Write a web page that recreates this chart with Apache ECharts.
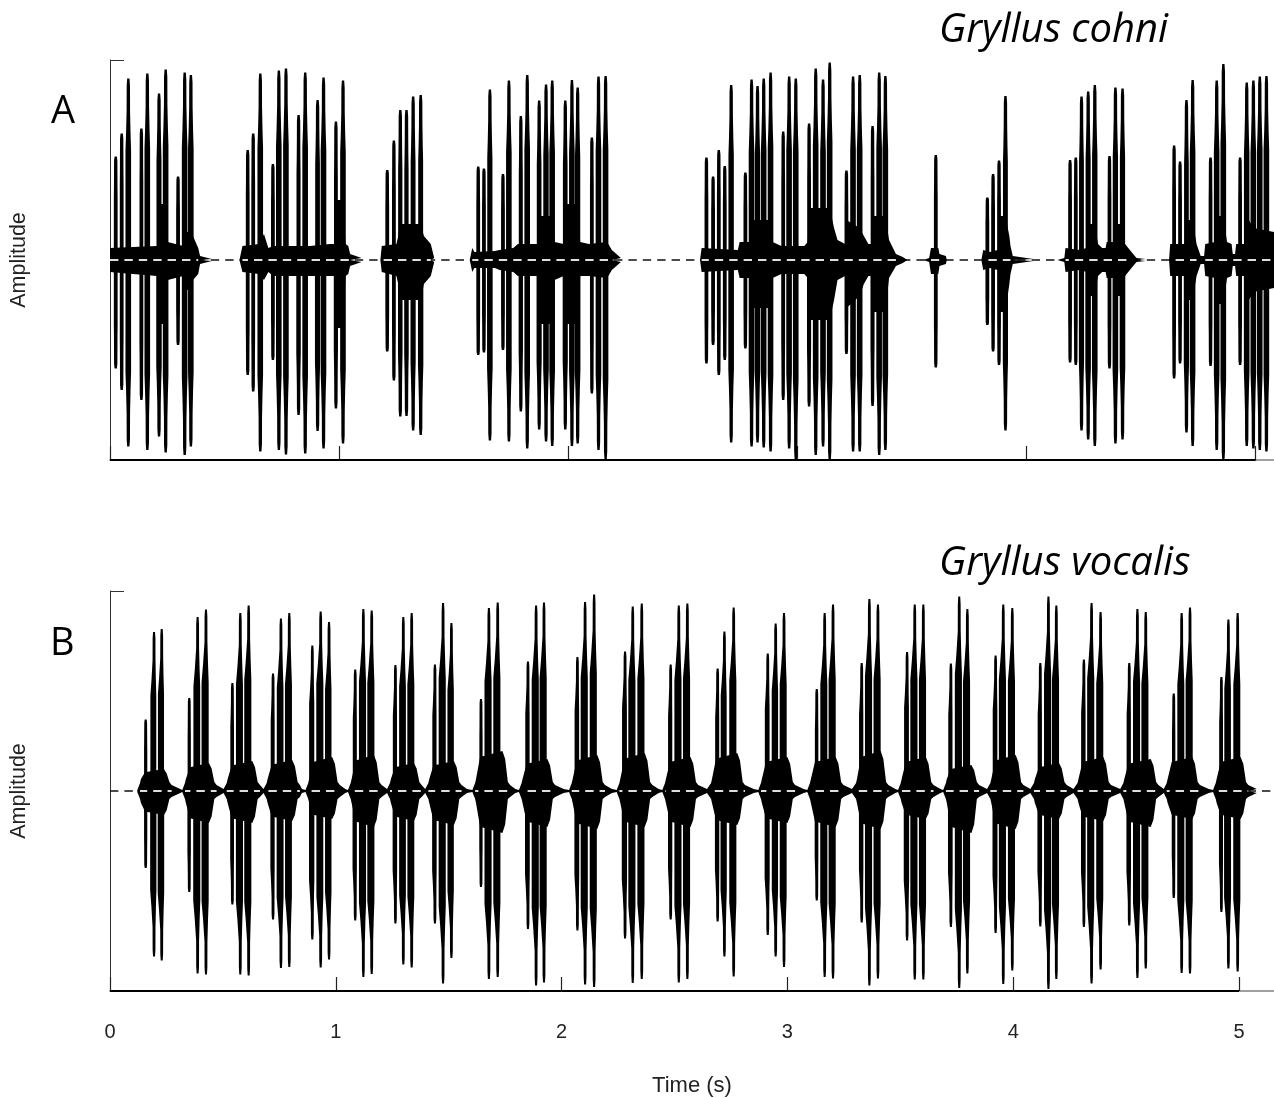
<!DOCTYPE html>
<html><head><meta charset="utf-8">
<style>html,body{margin:0;padding:0;background:#fff}#c{width:1274px;height:1098px}</style>
<script src="https://cdn.jsdelivr.net/npm/echarts@6/dist/echarts.min.js"></script>
</head><body><div id="c"></div>
<script>
const tickValues = [0, 1, 2, 3, 4, 5];

// Panel A: pulses [time s, positive peak, negative peak] (amplitude in % of full scale)
const pulsesA = [
 [.025,51.7,54.2],[.051,63.3,65],[.080,90.8,93.3],[.137,65.8,70],[.163,93.3,95],[.214,83.3,88.3],[.243,95.3,96.3],[.297,41.7,42.5],[.326,93.7,97.5],[.353,92.5,93.3],
 [.601,55,57.5],[.625,63.3,65.8],[.656,93.3,95.8],[.711,48,50],[.737,94.7,95],[.768,95.8,97.2],[.823,72.5,77.5],[.852,93.7,96.7],[.906,80,85.5],[.932,91.3,94.2],[.986,69.2,74.2],[1.017,89.7,91.7],
 [1.210,45,45.8],[1.239,59.7,60.3],[1.267,75,78.3],[1.294,75,78],[1.323,81.7,85.3],[1.356,82.5,87.5],
 [1.607,46.7,47.5],[1.632,45.8,46.3],[1.658,85.3,90.3],[1.715,43,45],[1.741,89.7,90.8],[1.793,72,75.8],[1.821,92.5,94.2],[1.873,79.7,84.7],[1.903,87.8,90.8],[1.930,89.7,93],[1.987,79.7,84.7],[2.016,90,93],[2.041,86.3,91.7],[2.103,61.3,66.7],[2.132,91.7,95],[2.163,92,99.5],
 [2.603,51.3,51.7],[2.632,41.7,42.5],[2.657,55,57.5],[2.683,47,50],[2.711,87.5,91.2],[2.773,43.7,44.2],[2.800,90.3,93.3],[2.826,87,91.3],[2.853,90.8,93.7],[2.883,93.7,95.8],[2.938,64.2,70],[2.964,91.7,94.2],[2.993,90.8,99.7],[3.051,68.3,73.3],[3.080,95.8,97.5],[3.112,90.3,93.3],[3.141,98.7,99.7],[3.214,44.7,47],[3.243,91.7,95.8],[3.272,92.5,95.8],[3.328,67,73],[3.357,93.7,97.5],[3.384,92,95],
 [3.604,52.5,53.8],
 [3.829,31.3,32.5],[3.854,43,45.8],[3.880,49.7,52.5],[3.908,82,85.3],
 [4.190,50,51.2],[4.215,51.3,52.5],[4.240,81.7,85.3],[4.269,84.2,89.7],[4.298,87.5,93],[4.362,52,54.2],[4.388,86.3,91.7],[4.419,85.8,89.7],
 [4.644,57.2,59.2],[4.670,49.2,51.7],[4.698,80,86.3],[4.725,90,93],[4.803,51.3,53],[4.830,89.7,95],[4.859,98,99.7],[4.932,51.3,52.5],[4.961,88.7,93],[4.990,89.7,94.2],[5.018,91.7,95],[5.047,92,95.8]
];

// Panel A: solid envelope under the pulses [time s, positive, negative]
const envelopeA = [
 [0,6,6],[.10,6.5,7],[.205,7,8],[.214,28,32],[.243,28,32],[.252,9,10],[.32,7,8],[.326,14,15],[.353,14,15],[.362,12,10],[.385,6,7],[.393,2,2],[.444,.5,.5],[.45,0,0],
 [.565,0,0],[.567,1,1],[.578,7,6],[.65,8,7],[.672,13,10],[.691,6,6],[.713,7,8],[.872,7,8],[.96,8,8],[.98,8,8],[.986,30,34],[1.017,30,34],[1.028,8,8],[1.04,7,7],[1.048,3,3],[1.098,1,1],[1.105,0,0],
 [1.18,0,0],[1.186,7,6],[1.25,8,8],[1.262,14,14],[1.267,18,20],[1.356,18,20],[1.37,12,12],[1.40,8,8],[1.415,1,1],[1.42,0,0],
 [1.57,0,0],[1.581,6,6],[1.59,4,4],[1.68,4.5,4],[1.70,5,5],[1.76,6,6],[1.78,8,8],[1.866,8,8],[1.873,22,32],[1.93,22,32],[1.94,9,10],[1.98,8,8],[1.987,28,32],[2.041,28,32],[2.052,9,8],[2.09,8,8],[2.17,9,9],[2.19,5,5],[2.23,1,1],[2.235,0,0],
 [2.575,0,0],[2.582,6,6],[2.74,5,5],[2.748,9,9],[2.795,9,9],[2.80,20,24],[2.883,20,24],[2.892,9,9],[2.93,7,7],[3.03,7,7],[3.045,9,9],[3.051,26,30],[3.141,26,30],[3.16,16,20],[3.175,10,10],[3.208,8,8],[3.214,20,24],[3.272,16,18],[3.29,12,12],[3.31,8,8],[3.322,8,8],[3.328,22,26],[3.384,22,26],[3.40,10,9],[3.43,3,3],[3.46,1.5,1.5],[3.48,0,0],
 [3.55,0,0],[3.575,1,1],[3.583,6,7],[3.615,6,7],[3.62,3,3],[3.648,2,2],[3.652,0,0],
 [3.803,0,0],[3.811,5,5],[3.84,4,4],[3.874,5,5],[3.88,22,26],[3.908,22,26],[3.925,12,12],[3.93,7,7],[3.94,2,2],[4.03,.5,.5],[4.035,0,0],
 [4.135,0,0],[4.165,1,1],[4.17,6,6],[4.232,5,5],[4.262,6,6],[4.269,18,18],[4.298,18,18],[4.312,8,8],[4.33,6,6],[4.345,6,6],[4.35,9,9],[4.382,9,9],[4.388,18,18],[4.419,18,18],[4.43,8,8],[4.458,4,4],[4.48,1,1],[4.52,.5,.5],[4.525,0,0],
 [4.622,0,0],[4.627,8,8],[4.69,8,8],[4.698,20,20],[4.725,20,20],[4.742,8,8],[4.76,2,2],[4.775,2,2],[4.78,8,8],[4.824,9,9],[4.83,22,22],[4.859,22,22],[4.875,9,9],[4.895,8,8],[4.9,3,3],[4.91,3,3],[4.915,8,8],[4.955,8,8],[4.961,22,22],[4.99,16,16],[5.08,14,14]
];

// Panel B: pulses [time s, positive peak, negative peak]
const pulsesB = [
 [.158,35.7,38.5],[.195,79.5,82.7],[.229,81,84.8],
 [.351,46.5,50.5],[.388,87,91.3],[.425,90.7,91.8],
 [.542,54,56.8],[.577,89,91.8],[.614,92.7,92.3],
 [.722,58.7,64.3],[.757,86.2,88.5],[.794,89,88],
 [.896,72.7,74.3],[.933,89.8,88.2],[.970,84.5,84.3],
 [1.086,60.7,64.7],[1.122,91,93],[1.159,90.3,91.5],
 [1.264,63,66.3],[1.299,87,86.8],[1.336,89,88.2],
 [1.439,63.2,66.3],[1.475,94,96.3],[1.512,84,83.5],
 [1.643,46,48],[1.678,91.5,94],[1.717,94.3,93],
 [1.851,64.8,69],[1.887,92.8,97.2],[1.922,94.3,95.7],
 [2.070,67,69.7],[2.104,94.5,96.8],[2.144,98.2,98],
 [2.281,69.8,73.8],[2.315,92.3,96],[2.355,93.7,94],
 [2.483,63.2,64.3],[2.519,92.7,95.7],[2.557,93.7,94],
 [2.691,61.2,65.2],[2.721,79.8,82.7],[2.762,91.8,92.7],
 [2.913,68.7,72],[2.948,83.7,82.7],[2.985,89,88],
 [3.130,51,54.7],[3.165,89,93],[3.202,93.2,93.8],
 [3.329,64,65.7],[3.363,96,97.2],[3.401,93.2,93.8],
 [3.530,69.5,74.7],[3.564,93.2,94.3],[3.602,93.2,94.3],
 [3.724,63.7,68],[3.761,97.3,98.5],[3.797,91,91.3],
 [3.922,67.7,71],[3.956,93.2,96.5],[3.996,91.5,89.7],
 [4.120,64,67.7],[4.156,97.3,99],[4.191,92.7,94],
 [4.313,65.7,68],[4.347,94,96.3],[4.387,89.5,89.3],
 [4.514,64,67.2],[4.550,91,93.5],[4.587,89.5,88.8],
 [4.711,48.7,53.5],[4.746,89,91],[4.783,91.8,91.3],
 [4.922,57,60.5],[4.953,85.7,88.8],[4.994,89,90.2]
];

// Panel B: syllable bodies [onset s, offset s, tail end s, positive hump, negative hump]
const burstsB = [
 [.133,.251,.317,11,12],[.332,.450,.509,14,16],[.517,.642,.686,15,16],[.694,.819,.856,15.5,15],[.878,.996,1.048,17,14],
 [1.066,1.181,1.233,18,18],[1.240,1.358,1.402,14,15],[1.410,1.535,1.587,15,17],[1.617,1.750,1.801,20,21],[1.823,1.949,2.015,16,18],
 [2.045,2.170,2.229,18,19],[2.256,2.380,2.436,19,18],[2.458,2.583,2.650,17,18],[2.662,2.790,2.857,19,17],[2.883,3.012,3.078,17,16],
 [3.100,3.226,3.292,17,18],[3.304,3.425,3.484,20,19],[3.502,3.625,3.684,17,14],[3.702,3.827,3.890,13,21],[3.899,4.023,4.082,18,19],
 [4.092,4.215,4.273,14,14],[4.285,4.411,4.480,17,15],[4.488,4.621,4.673,16,18],[4.680,4.805,4.872,17,14],[4.897,5.019,5.085,17,14]
];

const xMaxA = 5.08, xMaxB = 5.155;
const SHAPE_A = { tip: .0072, left: .0125, right: .012 };
const SHAPE_B = { tip: .0062, left: .0195, right: .012 };
const DASH = [8.4, 6];

function bodyEnvelope(bursts) {
  const out = [];
  bursts.forEach(([on, off, tail, up, dn]) => {
    out.push([on - .012, .5, .5], [on, 4, 4], [on + .004, 6, 6], [on + .022, up * .85, dn * .85],
             [off - .012, up, dn], [off, up * .8, dn * .8], [off + .012, 4.5, 4], [off + .022, 3, 3],
             [tail - .006, 1, 1], [tail, 0, 0]);
  });
  return out;
}
const envelopeB = bodyEnvelope(burstsB);

// stretches of the zero line that lie on solid signal
function solidSpans(env) {
  const spans = []; let start = null;
  env.forEach((d, i) => {
    const solid = d[1] >= 3;
    if (solid && start === null) start = d[0];
    if (!solid && start !== null) { spans.push([start, env[i - 1][0]]); start = null; }
  });
  if (start !== null) spans.push([start, env[env.length - 1][0]]);
  return spans;
}

function pulseRender(sh) {
  return function (params, api) {
    const t = api.value(0), up = api.value(1), dn = api.value(2);
    const side = amp => {
      const s = Math.pow(Math.min(1, amp / 90), 1.5);
      const L = Math.max(sh.tip * 1.15, sh.left * s), R = Math.max(sh.tip * 1.15, sh.right * s);
      return [[-L, 0], [-L, .6], [-(L + sh.tip) / 2, .7], [-sh.tip * 1.05, .82], [-sh.tip, .96], [-sh.tip * .7, 1],
              [sh.tip * .7, 1], [sh.tip, .96], [sh.tip * 1.05, .82], [(R + sh.tip) / 2, .7], [R, .6], [R, 0]];
    };
    const pts = [];
    side(up).forEach(p => pts.push(api.coord([t + p[0], p[1] * up])));
    side(dn).reverse().forEach(p => pts.push(api.coord([t + p[0], -p[1] * dn])));
    return { type: 'polygon', shape: { points: pts }, style: { fill: '#000' } };
  };
}
function dashRender(color, width) {
  return function (params, api) {
    const o = api.coord([0, 0]), a = api.coord([api.value(0), 0]), b = api.coord([api.value(1), 0]);
    return { type: 'line', shape: { x1: a[0], y1: a[1], x2: b[0], y2: b[1] },
      style: { stroke: color, lineWidth: width, lineDash: DASH, lineDashOffset: (a[0] - o[0]) % (DASH[0] + DASH[1]), fill: null } };
  };
}
function areaSeries(env, sign, idx) {
  const data = [];
  env.forEach((d, i) => {
    data.push([d[0], sign > 0 ? d[1] : -d[2]]);
    const next = env[i + 1];
    if (next && d[1] === 0 && next[1] === 0) data.push([d[0], null]);
  });
  return {
    type: 'line', xAxisIndex: idx, yAxisIndex: idx, showSymbol: false, symbol: 'none', z: 3, silent: true,
    connectNulls: false, lineStyle: { width: 0 }, areaStyle: { color: '#000', opacity: 1 }, data
  };
}
function panelSeries(pulses, env, idx, xMax, sh) {
  return [
    { type: 'custom', xAxisIndex: idx, yAxisIndex: idx, z: 2, clip: true, silent: true,
      renderItem: dashRender('#111', 1.3), encode: { x: [0, 1] }, data: [[0, xMax]] },
    areaSeries(env, 1, idx), areaSeries(env, -1, idx),
    { type: 'custom', xAxisIndex: idx, yAxisIndex: idx, z: 4, clip: true, silent: true,
      renderItem: pulseRender(sh), encode: { x: 0, y: [1, 2] }, data: pulses },
    { type: 'custom', xAxisIndex: idx, yAxisIndex: idx, z: 5, clip: true, silent: true,
      renderItem: dashRender('#dedede', 2), encode: { x: [0, 1] }, data: solidSpans(env) },
    { type: 'line', xAxisIndex: idx, yAxisIndex: idx, symbol: 'none', z: 6, clip: false, silent: true,
      lineStyle: { color: '#000', width: 2 }, data: [[0, -100], [5, -100]] }
  ];
}
function xAxis(idx, xMax, labelled) {
  const a = {
    type: 'value', gridIndex: idx, min: 0, max: xMax, interval: 1,
    axisLine: { show: true, onZero: false, lineStyle: { color: '#a0a0a0', width: 2 } },
    axisTick: { show: true, inside: true, length: 14, customValues: tickValues, lineStyle: { color: '#222', width: 1.2 } },
    splitLine: { show: false },
    axisLabel: { show: labelled, customValues: tickValues, margin: 31, color: '#222', fontFamily: 'Liberation Sans', fontSize: 20, hideOverlap: false }
  };
  if (labelled) {
    a.name = 'Time (s)'; a.nameLocation = 'middle'; a.nameGap = 84;
    a.nameTextStyle = { color: '#222', fontFamily: 'Liberation Sans', fontSize: 22 };
  }
  return a;
}
function yAxis(idx) {
  return {
    type: 'value', gridIndex: idx, min: -100, max: 100, interval: 200,
    name: 'Amplitude', nameLocation: 'middle', nameGap: 80,
    nameTextStyle: { color: '#222', fontFamily: 'Liberation Sans', fontSize: 21.5 },
    axisLine: { show: true, lineStyle: { color: '#333', width: 1 } },
    axisTick: { show: true, inside: true, length: 14, lineStyle: { color: '#333', width: 1 } },
    axisLabel: { show: false }, splitLine: { show: false }
  };
}
const bigText = { fontFamily: 'Open Sans', fontSize: 38, fontWeight: 'normal', color: '#000' };
const italicText = Object.assign({}, bigText, { fontStyle: 'italic', fontSize: 40 });
const option = {
  animation: false, backgroundColor: '#fff',
  title: [
    { text: 'Gryllus cohni', left: 939, top: 11, padding: 0, textStyle: italicText },
    { text: 'Gryllus vocalis', left: 939, top: 544, padding: 0, textStyle: italicText },
    { text: 'A', left: 51, top: 93, padding: 0, textStyle: bigText },
    { text: 'B', left: 50, top: 625, padding: 0, textStyle: bigText }
  ],
  grid: [
    { left: 110, width: 1164, top: 60, height: 400, outerBoundsMode: 'none' },
    { left: 110, width: 1164, top: 591, height: 400, outerBoundsMode: 'none' }
  ],
  xAxis: [xAxis(0, xMaxA, false), xAxis(1, xMaxB, true)],
  yAxis: [yAxis(0), yAxis(1)],
  series: panelSeries(pulsesA, envelopeA, 0, xMaxA, SHAPE_A).concat(panelSeries(pulsesB, envelopeB, 1, xMaxB, SHAPE_B))
};
const chart = echarts.init(document.getElementById('c'), null, { renderer: 'canvas' });
chart.setOption(option);
</script></body></html>
